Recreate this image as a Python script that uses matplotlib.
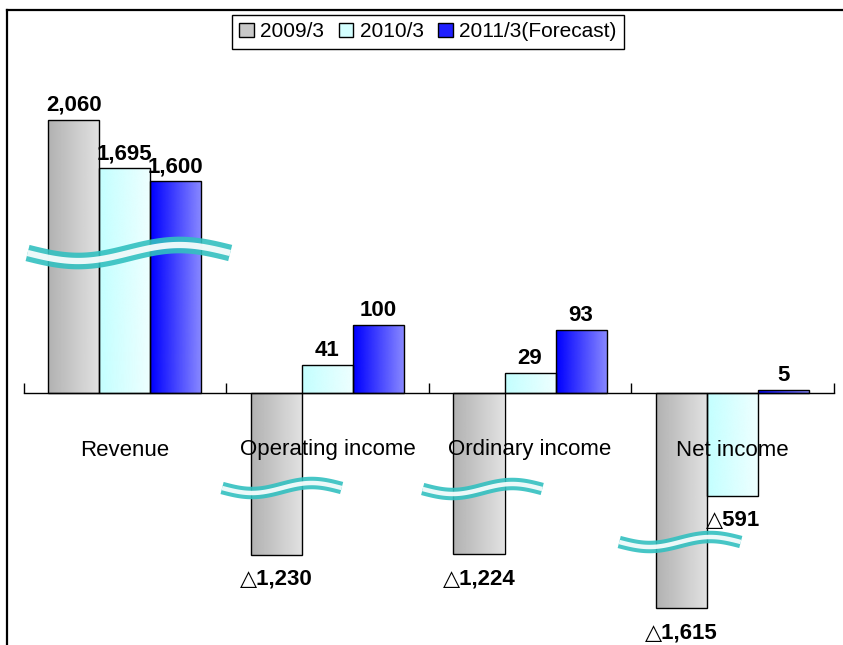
import numpy as np
import matplotlib
matplotlib.use("Agg")
import matplotlib.pyplot as plt
from matplotlib.patches import Patch
from matplotlib.lines import Line2D
from matplotlib.colors import LinearSegmentedColormap

plt.rcParams["font.family"] = ["Liberation Sans", "DejaVu Sans"]

categories = ["Revenue", "Operating income", "Ordinary income", "Net income"]
series_names = ["2009/3", "2010/3", "2011/3(Forecast)"]
fy2009 = [2060, -1230, -1224, -1615]
fy2010 = [1695, 41, 29, -591]
fy2011 = [1600, 100, 93, 5]
series = [fy2009, fy2010, fy2011]

# broken axis: value -> drawn pixels from the baseline (hand drawn breaks)
break_values = [-5000, -1615, -1230, -591, 0, 100, 1600, 2060, 5000]
break_pixels = [-680, -215, -162, -103, 0, 68, 212, 273, 670]


def fwd(v):
    return np.interp(v, break_values, break_pixels)


def inv(p):
    return np.interp(p, break_pixels, break_values)


gradients = [("#b2b2b2", "#e2e2e2"), ("#c4ffff", "#eeffff"), ("#0000ff", "#8888ff")]
legend_colors = ["#c8c8c8", "#d4ffff", "#2020ff"]

W, H = 843, 645
fig = plt.figure(figsize=(W / 100, H / 100), dpi=100)
ax_left, ax_right, ax_top = 23.5, 834, 10
ax = fig.add_axes([ax_left / W, 0, (ax_right - ax_left) / W, (H - ax_top) / H])
ax.set_yscale("function", functions=(fwd, inv))

x = np.arange(len(categories))
width = 0.252
offsets = [-width, 0, width]

for vals, off, (c0, c1) in zip(series, offsets, gradients):
    bars = ax.bar(x + off, vals, width, color="none", edgecolor="black", lw=1.0, zorder=3)
    cmap = LinearSegmentedColormap.from_list("g", [c0, c1])
    grad = np.linspace(0, 1, 64).reshape(1, -1)
    for b in bars:
        x0, y0 = b.get_x(), b.get_y()
        x1, y1 = x0 + b.get_width(), y0 + b.get_height()
        im = ax.imshow(grad, cmap=cmap, aspect="auto", extent=[x0, x1, min(y0, y1), max(y0, y1)],
                       interpolation="bicubic", zorder=2)
        im.set_clip_path(b)
    for xi, v in zip(x + off, vals):
        if v >= 0:
            ax.annotate(f"{v:,}", (xi, v), xytext=(0, 4), textcoords="offset pixels",
                        ha="center", va="bottom", fontsize=16, fontweight="bold", zorder=6)
        else:
            ax.annotate(f"△{-v:,}", (xi, v), xytext=(0, -14), textcoords="offset pixels",
                        ha="center", va="top", fontsize=16, fontweight="bold", zorder=6)

for xi, name in zip(x, categories):
    ax.annotate(name, (xi, 0), xytext=(0, -57), textcoords="offset pixels",
                ha="center", va="center", fontsize=16, zorder=7)

# wavy break marks (x range in data units, centre in pixels from baseline, amplitude)
waves = [(-0.48, 0.52, 140, 8, 12, 4.5), (0.48, 1.07, -95, 5, 9, 3.2),
         (1.47, 2.06, -96, 5, 9, 3.2), (2.44, 3.04, -149, 5, 9, 3.2)]
for xa, xb, yc, amp, lw_out, lw_in in waves:
    t = np.linspace(0, 1, 100)
    yy = inv(yc - amp * np.sin(2 * np.pi * t))
    xx = xa + (xb - xa) * t
    ax.plot(xx, yy, color="#33c0c0", lw=lw_out, solid_capstyle="butt", zorder=5, alpha=0.9)
    ax.plot(xx, yy, color="white", lw=lw_in, solid_capstyle="butt", zorder=5, alpha=0.9)

ax.set_xlim(-0.5, 3.5)
ax.set_ylim(inv(-(H - 393)), inv(393 - ax_top))

for s in ["top", "right", "left"]:
    ax.spines[s].set_visible(False)
ax.spines["bottom"].set_position(("data", 0))
ax.spines["bottom"].set_linewidth(1.0)
ax.spines["bottom"].set_zorder(4)
ax.set_xticks([-0.5, 0.5, 1.5, 2.5, 3.5])
ax.tick_params(axis="x", direction="in", length=7, width=1, labelbottom=False)
ax.set_yticks([])
ax.yaxis.set_minor_locator(matplotlib.ticker.NullLocator())
ax.patch.set_alpha(0)

handles = [Patch(facecolor=c, edgecolor="black", lw=1) for c in legend_colors]
leg = ax.legend(handles, series_names, loc="upper center", ncol=3, fontsize=15,
                bbox_to_anchor=(428 / W, 1 - 15 / H), bbox_transform=fig.transFigure,
                borderaxespad=0, handlelength=0.7, handleheight=0.7, handletextpad=0.3,
                columnspacing=0.7, borderpad=0.35, fancybox=False, framealpha=1,
                edgecolor="black")
leg.get_frame().set_linewidth(1.0)

# outer frame (left and top only visible in the crop)
fig.add_artist(Line2D([7 / W, 7 / W], [0, 1 - 10 / H], color="black", lw=1.6))
fig.add_artist(Line2D([7 / W, 1], [1 - 10 / H, 1 - 10 / H], color="black", lw=1.6))

fig.savefig("out.png", dpi=100, facecolor="white")
